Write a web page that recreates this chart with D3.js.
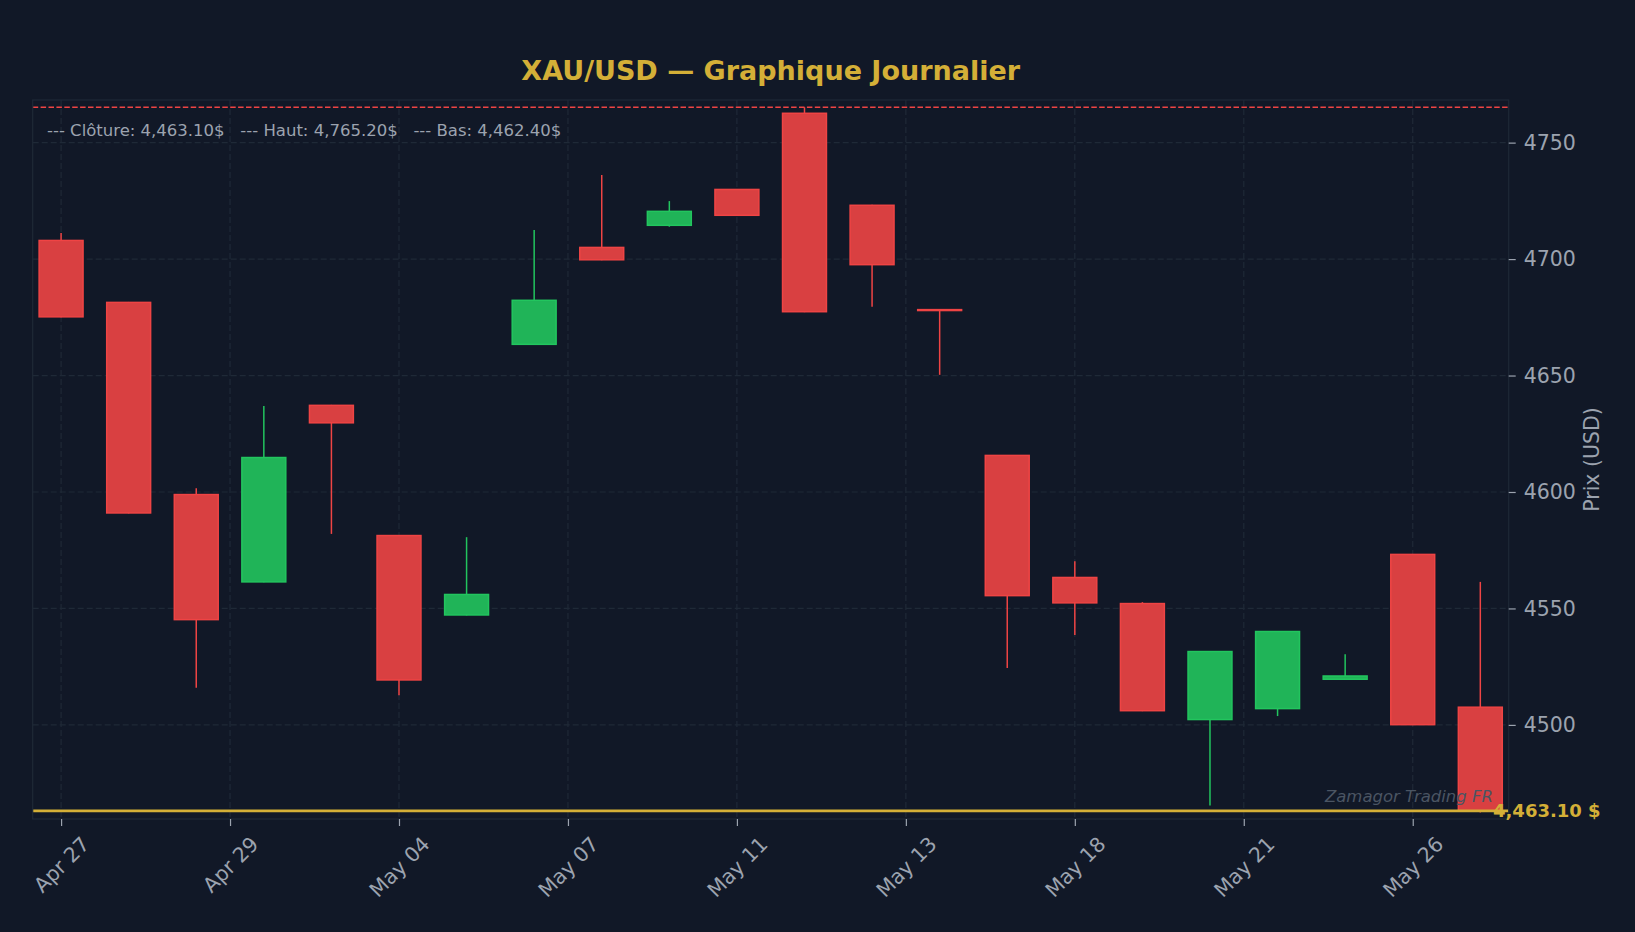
<!DOCTYPE html>
<html>
<head>
<meta charset="utf-8">
<script src="https://cdn.jsdelivr.net/npm/d3@7"></script>
<style>
  html, body { margin: 0; padding: 0; background: #111827; }
  svg { display: block; font-family: "DejaVu Sans", sans-serif; }
</style>
</head>
<body>
<div class="chart"></div>
<script>
// Données des bougies
const opens  = [4708.0, 4681.4, 4598.9, 4561.4, 4637.2, 4581.3, 4547.2, 4663.4, 4705.0, 4714.5, 4729.9,
                4762.6, 4723.1, 4678.3, 4615.7, 4563.3, 4552.1, 4502.3, 4507.0, 4519.6, 4573.2, 4507.6];
const highs  = [4711.2, 4681.6, 4601.6, 4636.9, 4637.4, 4581.5, 4580.6, 4712.5, 4736.1, 4724.9, 4730.1,
                4765.2, 4723.3, 4678.5, 4615.9, 4570.3, 4552.7, 4531.7, 4540.3, 4530.3, 4573.4, 4561.4];
const lows   = [4675.0, 4590.8, 4515.9, 4561.2, 4582.0, 4512.7, 4547.0, 4663.2, 4699.5, 4713.9, 4718.6,
                4677.2, 4679.5, 4650.3, 4524.4, 4538.6, 4505.9, 4465.4, 4503.8, 4519.4, 4499.9, 4462.4];
const closes = [4675.2, 4591.0, 4545.2, 4614.8, 4629.7, 4519.3, 4556.0, 4682.3, 4699.7, 4720.5, 4718.8,
                4677.4, 4697.6, 4677.9, 4555.5, 4552.4, 4506.1, 4531.5, 4540.1, 4521.0, 4500.1, 4463.1];

const tickIndex  = [0, 2.5, 5, 7.5, 10, 12.5, 15, 17.5, 20];
const tickLabels = ['Apr 27', 'Apr 29', 'May 04', 'May 07', 'May 11', 'May 13', 'May 18', 'May 21', 'May 26'];
const yTicks = [4500, 4550, 4600, 4650, 4700, 4750];

const width = 1635, height = 932;
const plot = { left: 32.7, top: 100, right: 1508.7, bottom: 819 };

const bg = '#111827', grid = '#1f2937', txt = '#9ca3af', gold = '#d4af37';
const up = '#22c55e', down = '#ef4444';
const upFill = '#20b458', downFill = '#d94041';

const candles = opens.map((o, i) => ({ i, o, h: highs[i], l: lows[i], c: closes[i] }));

const svg = d3.select('.chart').append('svg')
    .attr('width', width)
    .attr('height', height);

svg.append('rect').attr('width', width).attr('height', height).attr('fill', bg);

const x = d3.scaleLinear().domain([-0.42, 21.42]).range([plot.left, plot.right]);
const y = d3.scaleLinear().domain([4459.6, 4768.3]).range([plot.bottom, plot.top]);

// Grille
svg.append('g').selectAll('line').data(yTicks).join('line')
    .attr('x1', plot.left).attr('x2', plot.right)
    .attr('y1', d => y(d)).attr('y2', d => y(d))
    .attr('stroke', grid).attr('stroke-width', 1.2).attr('stroke-dasharray', '6,3');
svg.append('g').selectAll('line').data(tickIndex).join('line')
    .attr('x1', d => x(d)).attr('x2', d => x(d))
    .attr('y1', plot.top).attr('y2', plot.bottom)
    .attr('stroke', grid).attr('stroke-width', 1.2).attr('stroke-dasharray', '6,3');

// Ligne du plus haut
const hi = d3.max(highs), lo = d3.min(lows), last = closes[closes.length - 1];
svg.append('line')
    .attr('x1', plot.left).attr('x2', plot.right)
    .attr('y1', y(hi)).attr('y2', y(hi))
    .attr('stroke', down).attr('stroke-width', 1.6).attr('stroke-dasharray', '5.5,2.4');

// Bougies
const bw = x(0.65) - x(0);
const g = svg.append('g');
g.selectAll('line.wick').data(candles).join('line')
    .attr('class', 'wick')
    .attr('x1', d => x(d.i)).attr('x2', d => x(d.i))
    .attr('y1', d => y(d.h)).attr('y2', d => y(d.l))
    .attr('stroke', d => d.c >= d.o ? up : down)
    .attr('stroke-width', 1.5);
g.selectAll('rect.body').data(candles).join('rect')
    .attr('class', 'body')
    .attr('x', d => x(d.i) - bw / 2)
    .attr('width', bw)
    .attr('y', d => y(Math.max(d.o, d.c)))
    .attr('height', d => Math.max(0.3, Math.abs(y(d.o) - y(d.c))))
    .attr('fill', d => d.c >= d.o ? upFill : downFill)
    .attr('stroke', d => d.c >= d.o ? up : down)
    .attr('stroke-width', 1.5);

// Ligne du dernier prix
svg.append('line')
    .attr('x1', plot.left).attr('x2', plot.right)
    .attr('y1', y(last)).attr('y2', y(last))
    .attr('stroke', gold).attr('stroke-width', 2.6);

// Cadre
svg.append('rect')
    .attr('x', plot.left).attr('y', plot.top)
    .attr('width', plot.right - plot.left).attr('height', plot.bottom - plot.top)
    .attr('fill', 'none').attr('stroke', grid).attr('stroke-width', 1.2);

// Axe Y à droite
const yAxis = svg.append('g')
    .attr('transform', `translate(${plot.right},0)`)
    .call(d3.axisRight(y).tickValues(yTicks).tickSize(7).tickPadding(8).tickFormat(d3.format('d')));
yAxis.select('.domain').remove();
yAxis.selectAll('line').attr('stroke', txt).attr('stroke-width', 1.2);
yAxis.selectAll('text').attr('fill', txt).attr('font-size', '20.5px')
    .attr('font-family', '"DejaVu Sans", sans-serif');

// Axe X
const xAxis = svg.append('g')
    .attr('transform', `translate(0,${plot.bottom})`)
    .call(d3.axisBottom(x).tickValues(tickIndex).tickSize(7).tickFormat((d, i) => tickLabels[i]));
xAxis.select('.domain').remove();
xAxis.selectAll('line').attr('stroke', txt).attr('stroke-width', 1.2);
xAxis.selectAll('text')
    .attr('fill', txt).attr('font-size', '20.5px')
    .attr('font-family', '"DejaVu Sans", sans-serif')
    .attr('text-anchor', 'middle')
    .attr('dy', '0.35em')
    .each(function () {
        const w = this.getComputedTextLength();
        const h = 20.5 * 1.164;
        const cy = 13 + (w + h) * 0.7071 / 2;
        d3.select(this).attr('x', 0).attr('y', cy)
            .attr('transform', `rotate(-45,0,${cy})`);
    });

// Titre de l'axe Y
svg.append('text')
    .attr('transform', `translate(1592,${(plot.top + plot.bottom) / 2}) rotate(-90)`)
    .attr('text-anchor', 'middle').attr('dy', '0.35em')
    .attr('fill', txt).attr('font-size', '20.5px')
    .text('Prix (USD)');

// Titre
svg.append('text')
    .attr('x', (plot.left + plot.right) / 2).attr('y', 80)
    .attr('text-anchor', 'middle')
    .attr('fill', gold).attr('font-size', '27px').attr('font-weight', 'bold')
    .text('XAU/USD — Graphique Journalier');

// Infos
const fmt = d3.format(',.2f');
svg.append('text')
    .attr('x', 47).attr('y', 136)
    .attr('fill', txt).attr('font-size', '16.5px')
    .attr('xml:space', 'preserve')
    .style('white-space', 'pre')
    .text(`--- Clôture: ${fmt(last)}$   --- Haut: ${fmt(hi)}$   --- Bas: ${fmt(lo)}$`);

// Filigrane
svg.append('text')
    .attr('x', plot.right - 15.7).attr('y', plot.bottom - 17.3)
    .attr('text-anchor', 'end')
    .attr('fill', '#4b5563').attr('font-size', '16.5px').attr('font-style', 'italic')
    .text('Zamagor Trading FR');

// Étiquette du dernier prix
svg.append('text')
    .attr('x', 1493).attr('y', y(last)).attr('dy', '0.35em')
    .attr('fill', gold).attr('font-size', '18px').attr('font-weight', 'bold')
    .text(`${fmt(last)} $`);
</script>
</body>
</html>
